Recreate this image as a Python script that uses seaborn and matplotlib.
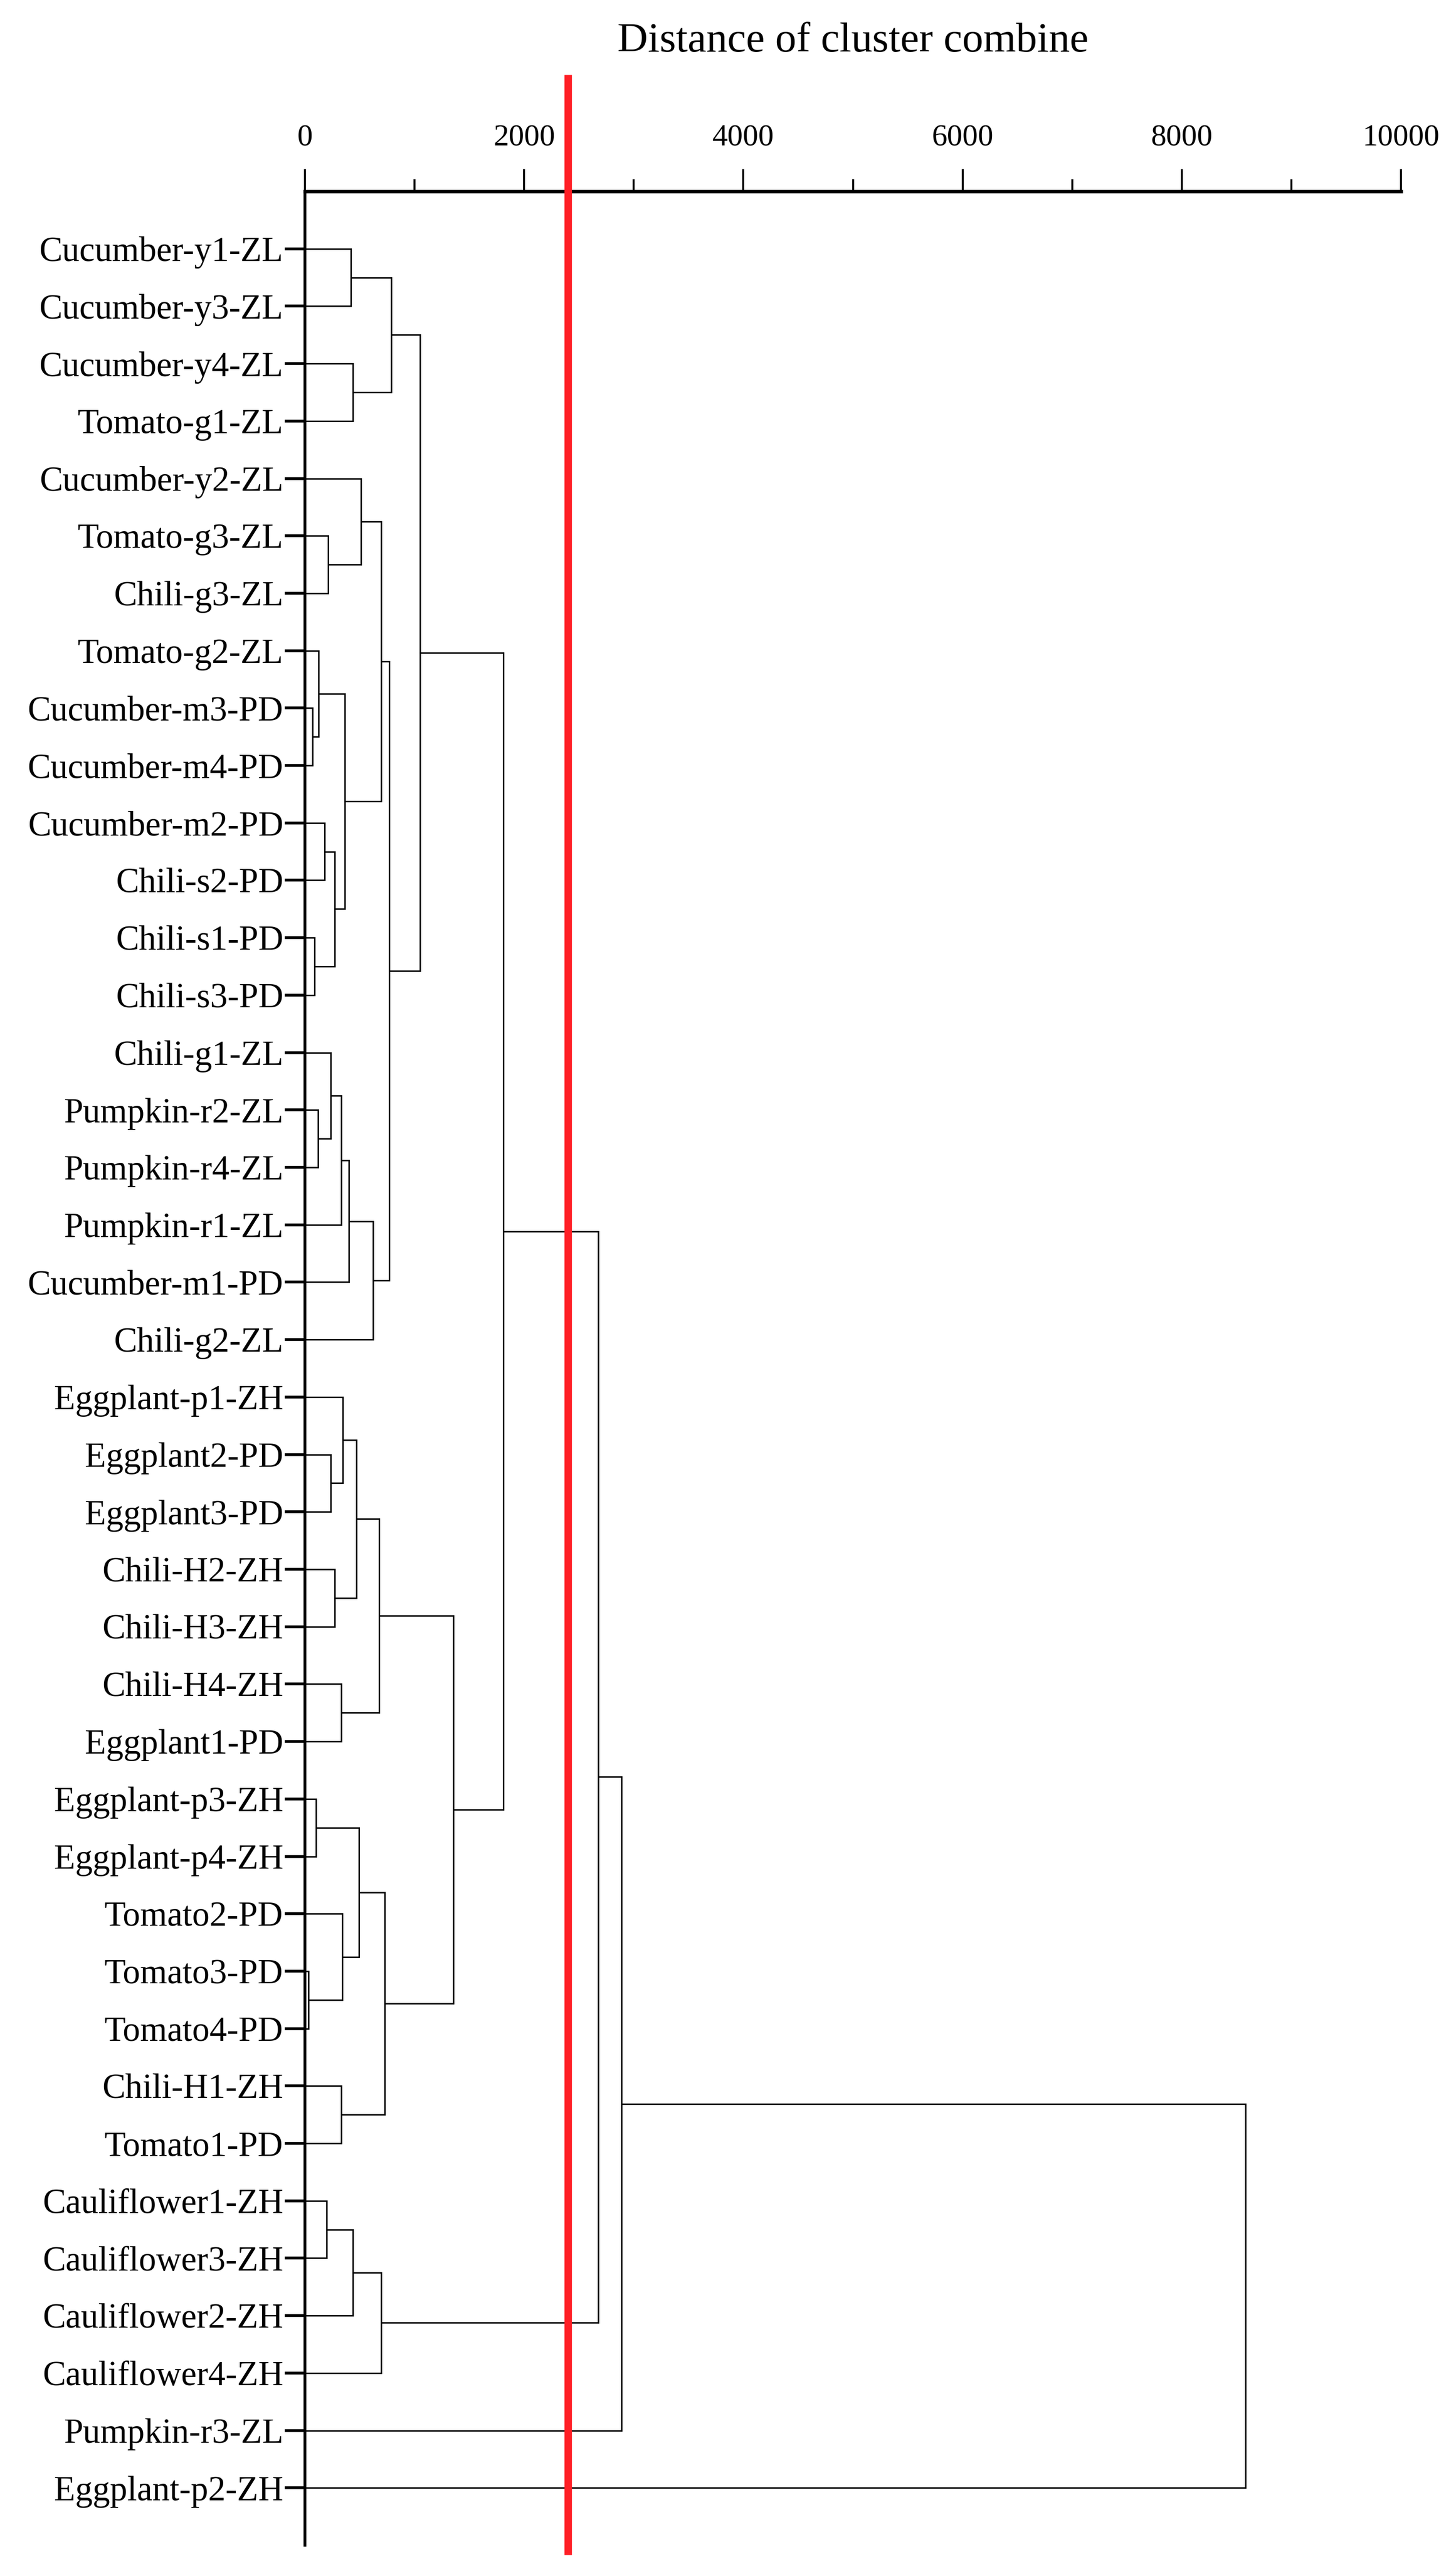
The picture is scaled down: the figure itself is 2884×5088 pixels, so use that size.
import matplotlib
matplotlib.use('Agg')
import matplotlib.pyplot as plt
import seaborn as sns
from matplotlib.ticker import MultipleLocator

# ---------------- data ----------------
leaves = [
    "Cucumber-y1-ZL", "Cucumber-y3-ZL", "Cucumber-y4-ZL", "Tomato-g1-ZL",
    "Cucumber-y2-ZL", "Tomato-g3-ZL", "Chili-g3-ZL", "Tomato-g2-ZL",
    "Cucumber-m3-PD", "Cucumber-m4-PD", "Cucumber-m2-PD", "Chili-s2-PD",
    "Chili-s1-PD", "Chili-s3-PD", "Chili-g1-ZL", "Pumpkin-r2-ZL",
    "Pumpkin-r4-ZL", "Pumpkin-r1-ZL", "Cucumber-m1-PD", "Chili-g2-ZL",
    "Eggplant-p1-ZH", "Eggplant2-PD", "Eggplant3-PD", "Chili-H2-ZH",
    "Chili-H3-ZH", "Chili-H4-ZH", "Eggplant1-PD", "Eggplant-p3-ZH",
    "Eggplant-p4-ZH", "Tomato2-PD", "Tomato3-PD", "Tomato4-PD",
    "Chili-H1-ZH", "Tomato1-PD", "Cauliflower1-ZH", "Cauliflower3-ZH",
    "Cauliflower2-ZH", "Cauliflower4-ZH", "Pumpkin-r3-ZL", "Eggplant-p2-ZH",
]

# linkage: (child a, child b, combine distance); ids < 40 are leaves,
# id 40 + k is the cluster formed by merge k
merge_a = [30, 8, 12, 27, 15, 7, 10, 34, 5, 14, 21, 46, 23, 49, 25, 32, 29, 20, 45, 53,
           0, 2, 47, 57, 43, 4, 59, 63, 65, 62, 64, 68, 60, 72, 67, 73, 75, 76, 77]
merge_b = [31, 9, 13, 28, 16, 41, 11, 35, 6, 44, 22, 42, 24, 17, 26, 33, 40, 50, 51, 18,
           1, 3, 36, 52, 56, 48, 19, 54, 58, 37, 55, 66, 61, 71, 70, 74, 69, 38, 39]
merge_dist = [30, 70, 89, 102, 122, 125, 180, 197, 213, 235, 235, 271, 271, 330, 330, 330,
              343, 346, 362, 401, 421, 437, 437, 469, 492, 511, 622, 675, 697, 697, 730,
              768, 788, 1051, 1355, 1810, 2675, 2890, 8580]

cut_distance = 2400
x_major = [0, 2000, 4000, 6000, 8000, 10000]
x_title = "Distance of cluster combine"

# ---------------- style ----------------
sns.set_theme(style="ticks")
plt.rcParams['font.family'] = ['Liberation Serif', 'DejaVu Serif']

W, H = 2884, 5088
fig = plt.figure(figsize=(W / 100, H / 100), dpi=100)
ax_left, ax_right, ax_top, ax_bot = 604 / W, 2775 / W, 1 - 379 / H, 1 - 5041 / H
ax = fig.add_axes([ax_left, ax_bot, ax_right - ax_left, ax_top - ax_bot])

# ---------------- dendrogram ----------------
n = len(leaves)
pos = {i: float(i) for i in range(n)}
hgt = {i: 0.0 for i in range(n)}
for k, (a, b, d) in enumerate(zip(merge_a, merge_b, merge_dist)):
    ax.plot([hgt[a], d, d, hgt[b]], [pos[a], pos[a], pos[b], pos[b]],
            color='black', lw=2.1, solid_joinstyle='miter', solid_capstyle='butt')
    pos[n + k] = (pos[a] + pos[b]) / 2
    hgt[n + k] = d

ax.set_xlim(0, 10000)
ax.set_ylim(n, -1)

# cut line
ax.axvline(cut_distance, ymin=-0.004, ymax=1.0496, clip_on=False,
           color='#ff1f26', lw=10.6, zorder=10, solid_capstyle='butt')

# ---------------- axes ----------------
sns.despine(ax=ax, top=False, right=True, bottom=True, left=False)
ax.spines['left'].set_linewidth(4)
ax.spines['top'].set_linewidth(5)
for s in ('left', 'top'):
    ax.spines[s].set_color('black')

ax.set_yticks(range(n))
ax.set_yticklabels(leaves, fontsize=49.5, color='black')
ax.tick_params(axis='y', length=29, width=4, pad=2, direction='out', colors='black')

ax.xaxis.tick_top()
ax.set_xticks(x_major)
ax.set_xticklabels([str(v) for v in x_major])
ax.xaxis.set_minor_locator(MultipleLocator(1000))
ax.tick_params(axis='x', which='major', length=31.7, width=2.8, pad=25, labelsize=44,
               top=True, bottom=False, direction='out', colors='black')
ax.tick_params(axis='x', which='minor', length=17, width=2.8,
               top=True, bottom=False, direction='out', colors='black')

fig.text((ax_left + ax_right) / 2, 1 - 102 / H, x_title, ha='center', va='baseline',
         fontsize=60, color='black')

fig.savefig('out.png', dpi=100)
